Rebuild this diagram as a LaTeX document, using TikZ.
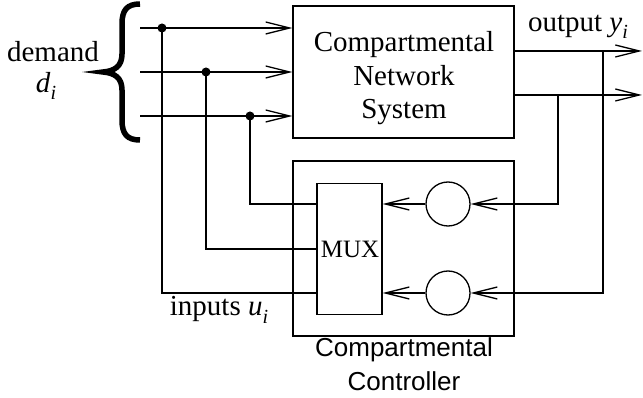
\documentclass[tikz,border=0pt]{standalone}
\usepackage{fontspec}
\setmainfont{Liberation Serif}
\setsansfont{Liberation Sans}
\usetikzlibrary{arrows.meta}
\newcommand\mysub[1]{\raisebox{-0.25em}{\fontsize{20}{20}\selectfont\itshape #1}}
\begin{document}
\begin{tikzpicture}[x=1pt,y=-1pt,line width=1.3pt,
  arr/.style={-{Straight Barb[length=24pt,width=12pt,line width=1.3pt]}},
  serif/.style={font=\fontsize{29}{33.5}\selectfont},
  sans/.style={font=\sffamily\fontsize{26}{34}\selectfont},
  blk/.style={draw,inner sep=0pt},
  dot/.style={circle,fill,inner sep=0pt,minimum size=9pt},
  ring/.style={circle,draw,inner sep=0pt,minimum size=44pt}]
\useasboundingbox (0,0) rectangle (643,398);
% boxes
\node[blk,minimum width=221pt,minimum height=132pt] (cns) at (403.5,72) {};
\node[serif,align=center] (cnstext) at (404,78.5) {Compartmental\\Network\\System};
\node[blk,minimum width=221pt,minimum height=175pt] (ctrl) at (403.5,248.5) {};
\node[blk,minimum width=65pt,minimum height=131pt] (mux) at (349.5,249) {};
\node[font=\fontsize{25}{25}\selectfont] (muxtext) at (350,249) {MUX};
\node[ring] (c1) at (448,204) {};
\node[ring] (c2) at (448,293) {};
% demand inputs
\coordinate (i1) at (140,28);
\coordinate (i2) at (140,72);
\coordinate (i3) at (140,116);
\draw[arr] (i1) -- (i1 -| cns.west);
\draw[arr] (i2) -- (i2 -| cns.west);
\draw[arr] (i3) -- (i3 -| cns.west);
\node[dot] (d1) at (162,28) {};
\node[dot] (d2) at (206,72) {};
\node[dot] (d3) at (250,116) {};
\draw (d1.center) |- (mux.west |- c2);
\draw (d2.center) |- (mux.west);
\draw (d3.center) |- (mux.west |- c1);
% outputs
\coordinate (o1) at (642,51);
\coordinate (o2) at (642,95);
\draw[arr] (cns.east |- o1) -- (o1);
\draw[arr] (cns.east |- o2) -- (o2);
\coordinate (t1) at (603,51);
\coordinate (t2) at (558,95);
\draw[arr] (t1) |- (c2.east);
\draw[arr] (t2) |- (c1.east);
\draw[arr] (c1.west) -- (mux.east |- c1);
\draw[arr] (c2.west) -- (mux.east |- c2);
% brace
\draw[line width=5.5pt,line join=miter] (140,4) .. controls (127,4) and (122,10) .. (122,24) -- (122,54)
  .. controls (122,66) and (115,71) .. (103,72) .. controls (115,73) and (122,78) .. (122,90)
  -- (122,120) .. controls (122,134) and (127,140) .. (140,140);
% labels
\node[serif] (demand) at (53,52) {demand};
\node[serif] (dlabel) at (46,86) {\textit{d}\mysub{i}};
\node[serif] (outlabel) at (578,27) {output \textit{y}\mysub{i}};
\node[serif] (inlabel) at (219,310) {inputs \textit{u}\mysub{i}};
\node[sans,align=center] (ctrltext) at (404,364) {Compartmental\\Controller};
\end{tikzpicture}
\end{document}
